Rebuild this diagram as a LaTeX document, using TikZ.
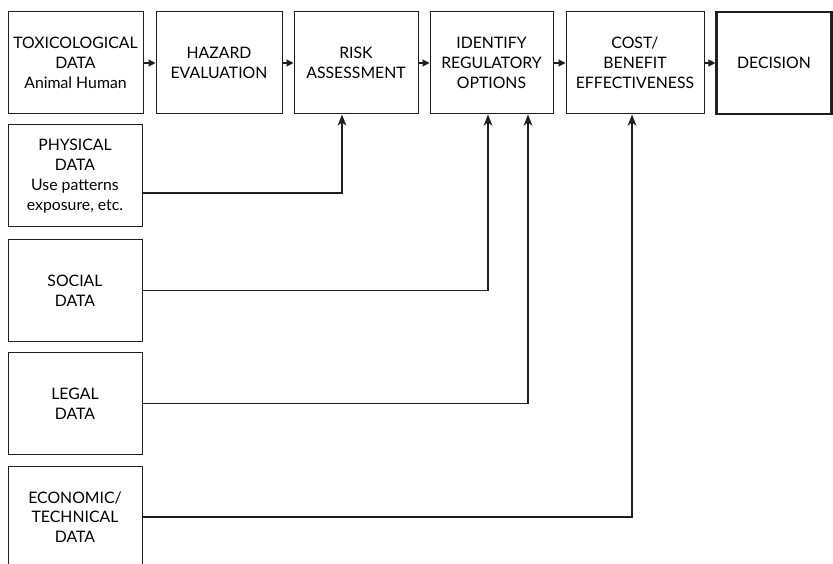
\documentclass[tikz,border=0pt]{standalone}
\usepackage{fontspec}
\setmainfont{Lato}
\usetikzlibrary{arrows.meta}
\begin{document}
\begin{tikzpicture}[x=1pt,y=-1pt,
  box/.style={draw=black!88,line width=1pt,align=center,inner sep=0pt,
    minimum height=102pt,font=\fontsize{15.8}{19.8}\selectfont},
  thick box/.style={box,line width=2.2pt},
  flow/.style={draw=black!88,line width=1.1pt,-{Triangle[length=7pt,width=7pt]}},
  conn/.style={draw=black!88,line width=1.9pt,-{Stealth[length=11pt,width=8.5pt,inset=3pt]}}]
\clip (0,0) rectangle (833,564);
\fill[white] (0,0) rectangle (833,564);
% top row
\node[box,minimum width=135pt] (tox) at (75.5,63) {TOXICOLOGICAL\\DATA\\Animal Human};
\node[box,minimum width=126pt] (haz) at (219,63) {HAZARD\\EVALUATION};
\node[box,minimum width=124pt] (risk) at (356,63) {RISK\\ASSESSMENT};
\node[box,minimum width=123pt] (ident) at (491.5,63) {IDENTIFY\\REGULATORY\\OPTIONS};
\node[box,minimum width=138pt] (cost) at (635,63) {COST/\\BENEFIT\\EFFECTIVENESS};
\node[thick box,minimum width=115pt] (dec) at (774,63) {DECISION};
% left column
\node[box,minimum width=134pt] (phys) at (75,176) {PHYSICAL\\DATA\\Use patterns\\exposure, etc.};
\node[box,minimum width=134pt] (soc) at (75,290.5) {SOCIAL\\DATA};
\node[box,minimum width=134pt] (leg) at (75,403.5) {LEGAL\\DATA};
\node[box,minimum width=134pt] (econ) at (75,517) {ECONOMIC/\\TECHNICAL\\DATA};
% flow arrows
\draw[flow] (tox) -- (haz);
\draw[flow] (haz) -- (risk);
\draw[flow] (risk) -- (ident);
\draw[flow] (ident) -- (cost);
\draw[flow] (cost) -- (dec);
% feeders
\coordinate (cp) at (342,193);
\coordinate (cs) at (488,0);
\coordinate (cl) at (528,0);
\coordinate (ce) at (632,0);
\draw[conn] (phys.east |- cp) -- (cp) -- (cp |- risk.south);
\draw[conn] (soc.east) -| (cs |- ident.south);
\draw[conn] (leg.east) -| (cl |- ident.south);
\draw[conn] (econ.east) -| (ce |- cost.south);
\end{tikzpicture}
\end{document}
